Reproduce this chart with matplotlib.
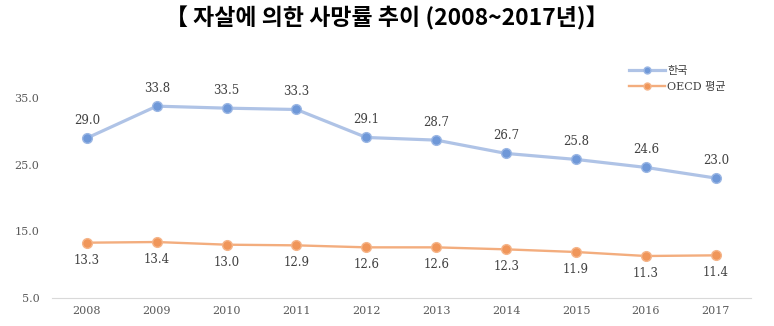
import matplotlib.pyplot as plt

# data
years = ['2008', '2009', '2010', '2011', '2012', '2013', '2014', '2015', '2016', '2017']
korea = [29.0, 33.8, 33.5, 33.3, 29.1, 28.7, 26.7, 25.8, 24.6, 23.0]
oecd = [13.3, 13.4, 13.0, 12.9, 12.6, 12.6, 12.3, 11.9, 11.3, 11.4]
yticks = [5.0, 15.0, 25.0, 35.0]

plt.rcParams['font.family'] = ['DejaVu Serif', 'Noto Sans CJK KR']

fig = plt.figure(figsize=(7.74, 3.26), dpi=100)
ax = fig.add_axes([0.067, 0.086, 0.903, 0.715])

x = list(range(len(years)))
ax.plot(x, korea, color='#AFC3E6', linewidth=2.3, marker='o', markersize=7,
        markerfacecolor='#6F98D8', markeredgecolor='#9BB7E4', label='한국')
ax.plot(x, oecd, color='#F3AD7E', linewidth=1.7, marker='o', markersize=7,
        markerfacecolor='#F0965A', markeredgecolor='#F5B58A', label='OECD 평균')

for i in x:
    ax.annotate(f'{korea[i]:.1f}', (i, korea[i]), xytext=(0, 8), textcoords='offset points',
                ha='center', va='bottom', fontsize=8.5, color='#404040')
    ax.annotate(f'{oecd[i]:.1f}', (i, oecd[i]), xytext=(0, -8), textcoords='offset points',
                ha='center', va='top', fontsize=8.5, color='#404040')

ax.set_xlim(-0.5, len(years) - 0.5)
ax.set_ylim(5, 40)
ax.set_xticks(x)
ax.set_xticklabels(years)
ax.set_yticks(yticks)
ax.set_yticklabels([f'{v:.1f}' for v in yticks])
ax.tick_params(length=0, labelsize=8, colors='#595959', pad=6)
ax.tick_params(axis='y', pad=9)
for side in ['top', 'right', 'left']:
    ax.spines[side].set_visible(False)
ax.spines['bottom'].set_color('#D9D9D9')

leg = ax.legend(loc='upper left', bbox_to_anchor=(0.812, 1.04), frameon=False,
                handlelength=3.2, handletextpad=0.2, labelspacing=0.6,
                prop={'family': ['DejaVu Serif', 'Noto Sans CJK KR'], 'size': 8})
for t in leg.get_texts():
    t.set_color('#404040')
for h in leg.legend_handles:
    h.set_markersize(5)

fig.text(0.5, 0.945, '【 자살에 의한 사망률 추이 (2008~2017년)】', ha='center', va='center',
         fontsize=16.5, fontweight='bold', family=['Noto Sans CJK KR', 'DejaVu Sans'])

plt.savefig('out.png', dpi=100)
